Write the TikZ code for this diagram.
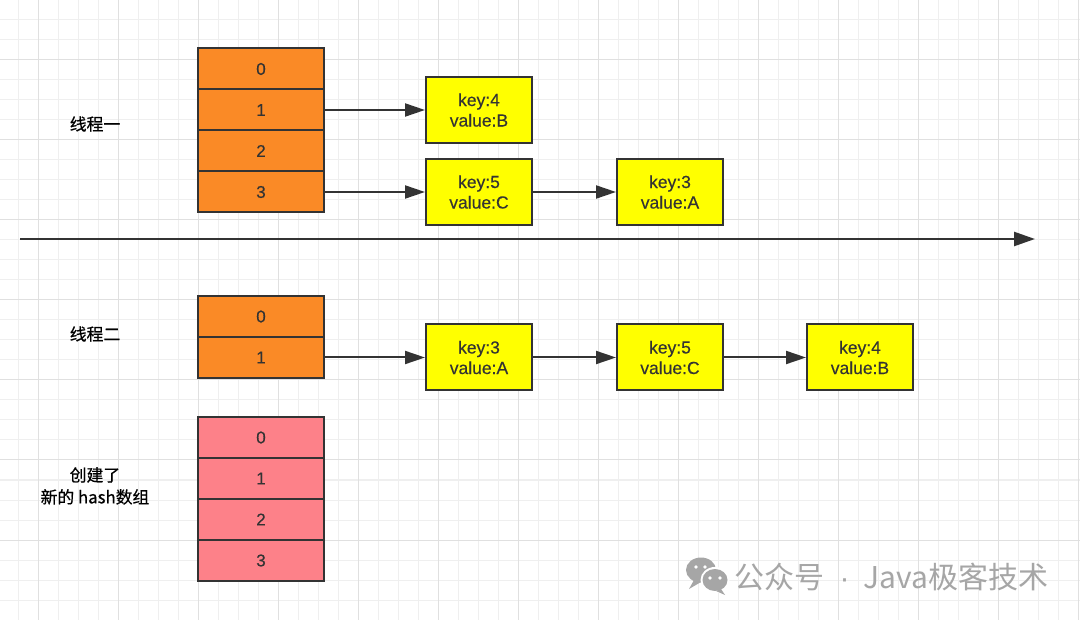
\documentclass[tikz,border=0pt]{standalone}
\usepackage{fontspec}
\setmainfont{Liberation Sans}[FakeBold=0.35]
\newfontfamily\cjk{Noto Sans CJK SC}[FakeBold=0.6]
\newfontfamily\cjkwm{Noto Sans CJK SC}
\newfontfamily\latwm{Liberation Sans}
\usetikzlibrary{arrows.meta}
\definecolor{gridminor}{HTML}{EFEFEF}
\definecolor{gridmajor}{HTML}{E0E0E0}
\definecolor{cellorange}{HTML}{FA8A26}
\definecolor{cellpink}{HTML}{FD8189}
\definecolor{entryyellow}{HTML}{FFFF00}
\definecolor{inkdark}{HTML}{333333}
\definecolor{wmgray}{HTML}{A6A6A6}
\tikzset{
  cell/.style={draw=inkdark, line width=2pt, minimum width=126pt, minimum height=41pt, inner sep=0pt,
    font=\fontsize{17}{20}\selectfont, text=inkdark},
  ocell/.style={cell, fill=cellorange},
  pcell/.style={cell, fill=cellpink},
  entry/.style={draw=inkdark, line width=2pt, fill=entryyellow, minimum width=106pt, minimum height=66pt,
    inner sep=0pt, align=center, font=\fontsize{17.5}{20.5}\selectfont, text=inkdark},
  link/.style={draw=inkdark, line width=2pt, -{Triangle[length=20pt,width=13pt]}},
  label/.style={font=\cjk\fontsize{16.8}{22}\selectfont, text=black, align=center},
}
\begin{document}
\begin{tikzpicture}[x=1pt,y=-1pt]
\useasboundingbox (0,0) rectangle (1080,620);
\fill[white] (0,0) rectangle (1080,620);
% grid
\foreach \gx in {18,38,...,1078} \draw[gridminor, line width=1pt] (\gx,0) -- (\gx,620);
\foreach \gy in {0,20,...,620} \draw[gridminor, line width=1pt] (0,\gy) -- (1080,\gy);
\foreach \gx in {38,118,...,1078} \draw[gridmajor, line width=1pt] (\gx,0) -- (\gx,620);
\foreach \gy in {60,140,...,620} \draw[gridmajor, line width=1pt] (0,\gy) -- (1080,\gy);

% thread one
\node[label] (l1) at (95,124) {线程一};
\node[ocell] (a0) at (261,69) {0};
\node[ocell] (a1) at (261,110) {1};
\node[ocell] (a2) at (261,151) {2};
\node[ocell] (a3) at (261,192) {3};
\node[entry] (n1) at (479,110) {key:4\\value:B};
\node[entry] (n2) at (479,192) {key:5\\value:C};
\node[entry] (n3) at (670,192) {key:3\\value:A};
\draw[link] (a1.east) -- (n1.west);
\draw[link] (a3.east) -- (n2.west);
\draw[link] (n2.east) -- (n3.west);

% timeline
\coordinate (t1) at (20,239);
\coordinate (t2) at (1035,239);
\draw[draw=inkdark, line width=2.5pt, -{Triangle[length=21pt,width=14pt]}] (t1) -- (t2);

% thread two
\node[label] (l2) at (95,334) {线程二};
\node[ocell] (b0) at (261,316.5) {0};
\node[ocell] (b1) at (261,357.5) {1};
\node[entry] (m1) at (479,357.5) {key:3\\value:A};
\node[entry] (m2) at (670,357.5) {key:5\\value:C};
\node[entry] (m3) at (860,357.5) {key:4\\value:B};
\draw[link] (b1.east) -- (m1.west);
\draw[link] (m1.east) -- (m2.west);
\draw[link] (m2.east) -- (m3.west);

% new array
\node[label] (l3) at (95,486) {创建了\\新的 hash数组};
\node[pcell] (c0) at (261,437.5) {0};
\node[pcell] (c1) at (261,478.5) {1};
\node[pcell] (c2) at (261,519.5) {2};
\node[pcell] (c3) at (261,560.5) {3};

% watermark
\fill[wmgray] (701,570) ellipse (15 and 12.5);
\fill[wmgray] (694,580) -- (689,589) -- (701,582) -- cycle;
\fill[white] (715,580) ellipse (14.5 and 13);
\fill[wmgray] (715,580) ellipse (12.5 and 11);
\fill[wmgray] (721,589) -- (725,595) -- (716,591) -- cycle;
\fill[white] (696,567) circle (1.8);
\fill[white] (705,567) circle (1.8);
\fill[white] (710,578) circle (1.8);
\fill[white] (720,578) circle (1.8);
\node[anchor=west, inner sep=0pt, text=wmgray, font=\cjkwm\fontsize{30}{32}\selectfont] (wm) at (734,577) {公众号\latwm\hspace{7pt} · \hspace{6pt}\cjkwm Java极客技术};
\end{tikzpicture}
\end{document}
